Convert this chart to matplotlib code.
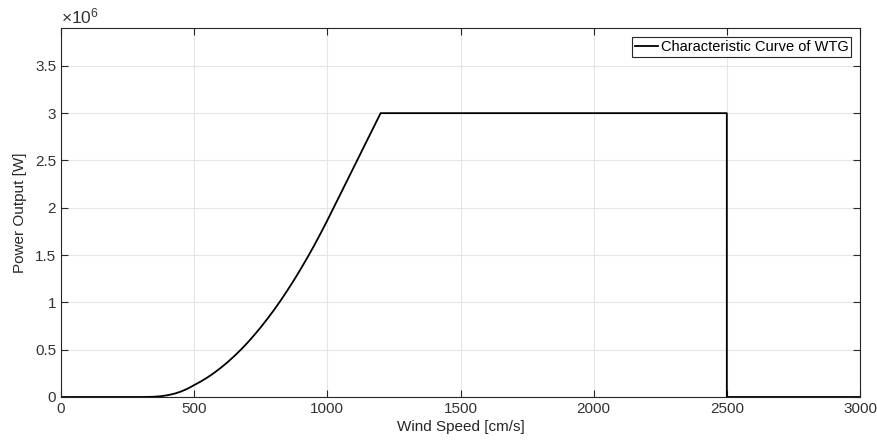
import matplotlib
matplotlib.use("Agg")
import matplotlib.pyplot as plt
from matplotlib.ticker import FuncFormatter

# wind speed [cm/s] and power output [x1e6 W]
wind_speed = [0, 300, 325, 350, 375, 400, 425, 450, 475, 500, 525, 550, 575,
              600, 625, 650, 675, 700, 725, 750, 775, 800, 825, 850, 875,
              900, 925, 950, 975, 1000, 1025, 1050, 1075, 1100, 1125, 1150,
              1175, 1200, 2500, 2500, 3000]
power_mw = [0, 0, 0.0006, 0.003, 0.0085, 0.0187, 0.0345, 0.057, 0.0875,
            0.126, 0.164, 0.207, 0.255, 0.309, 0.367, 0.431, 0.499, 0.573,
            0.653, 0.737, 0.827, 0.921, 1.021, 1.127, 1.237, 1.353, 1.473,
            1.599, 1.731, 1.867, 2.009, 2.150, 2.292, 2.433, 2.575, 2.717,
            2.858, 3.0, 3.0, 0, 0]
power = [p * 1e6 for p in power_mw]

x_ticks = [0, 500, 1000, 1500, 2000, 2500, 3000]
y_ticks = [0, 0.5e6, 1e6, 1.5e6, 2e6, 2.5e6, 3e6, 3.5e6]

plt.rcParams['font.family'] = ['Liberation Sans', 'DejaVu Sans']
plt.rcParams['mathtext.fontset'] = 'custom'
plt.rcParams['mathtext.rm'] = 'Liberation Sans'
plt.rcParams['mathtext.it'] = 'Liberation Sans'

fig = plt.figure(figsize=(8.77, 4.41), dpi=100)
ax = fig.add_axes([0.0696, 0.0998, 0.911, 0.8367])

ax.plot(wind_speed, power, color='black', lw=1.3,
        label='Characteristic Curve of WTG')

ax.set_xlim(0, 3000)
ax.set_ylim(0, 3.9e6)
ax.set_xticks(x_ticks)
ax.set_yticks(y_ticks)
ax.yaxis.set_major_formatter(FuncFormatter(lambda v, pos: '%g' % (v / 1e6)))
ax.tick_params(direction='in', length=5, width=0.8, colors='#262626',
               labelsize=11, top=True, right=True, labelcolor='#333333')
for s in ax.spines.values():
    s.set_color('#262626')
    s.set_linewidth(0.8)
ax.grid(True, color='#e6e6e6', lw=0.8)
ax.set_axisbelow(True)

ax.text(0.0, 1.005, r'$\times10^{6}$', transform=ax.transAxes,
        fontsize=12.5, color='#333333', ha='left', va='bottom')

ax.set_xlabel('Wind Speed [cm/s]', fontsize=11, color='#262626', labelpad=3)
ax.set_ylabel('Power Output [W]', fontsize=11, color='#262626', labelpad=6)

leg = ax.legend(loc='upper right', fontsize=10.5, fancybox=False,
                framealpha=1, edgecolor='#262626', handlelength=1.6,
                handletextpad=0.15, borderpad=0.2, borderaxespad=0.6)
leg.get_frame().set_linewidth(0.8)

fig.savefig('out.png', dpi=100)
